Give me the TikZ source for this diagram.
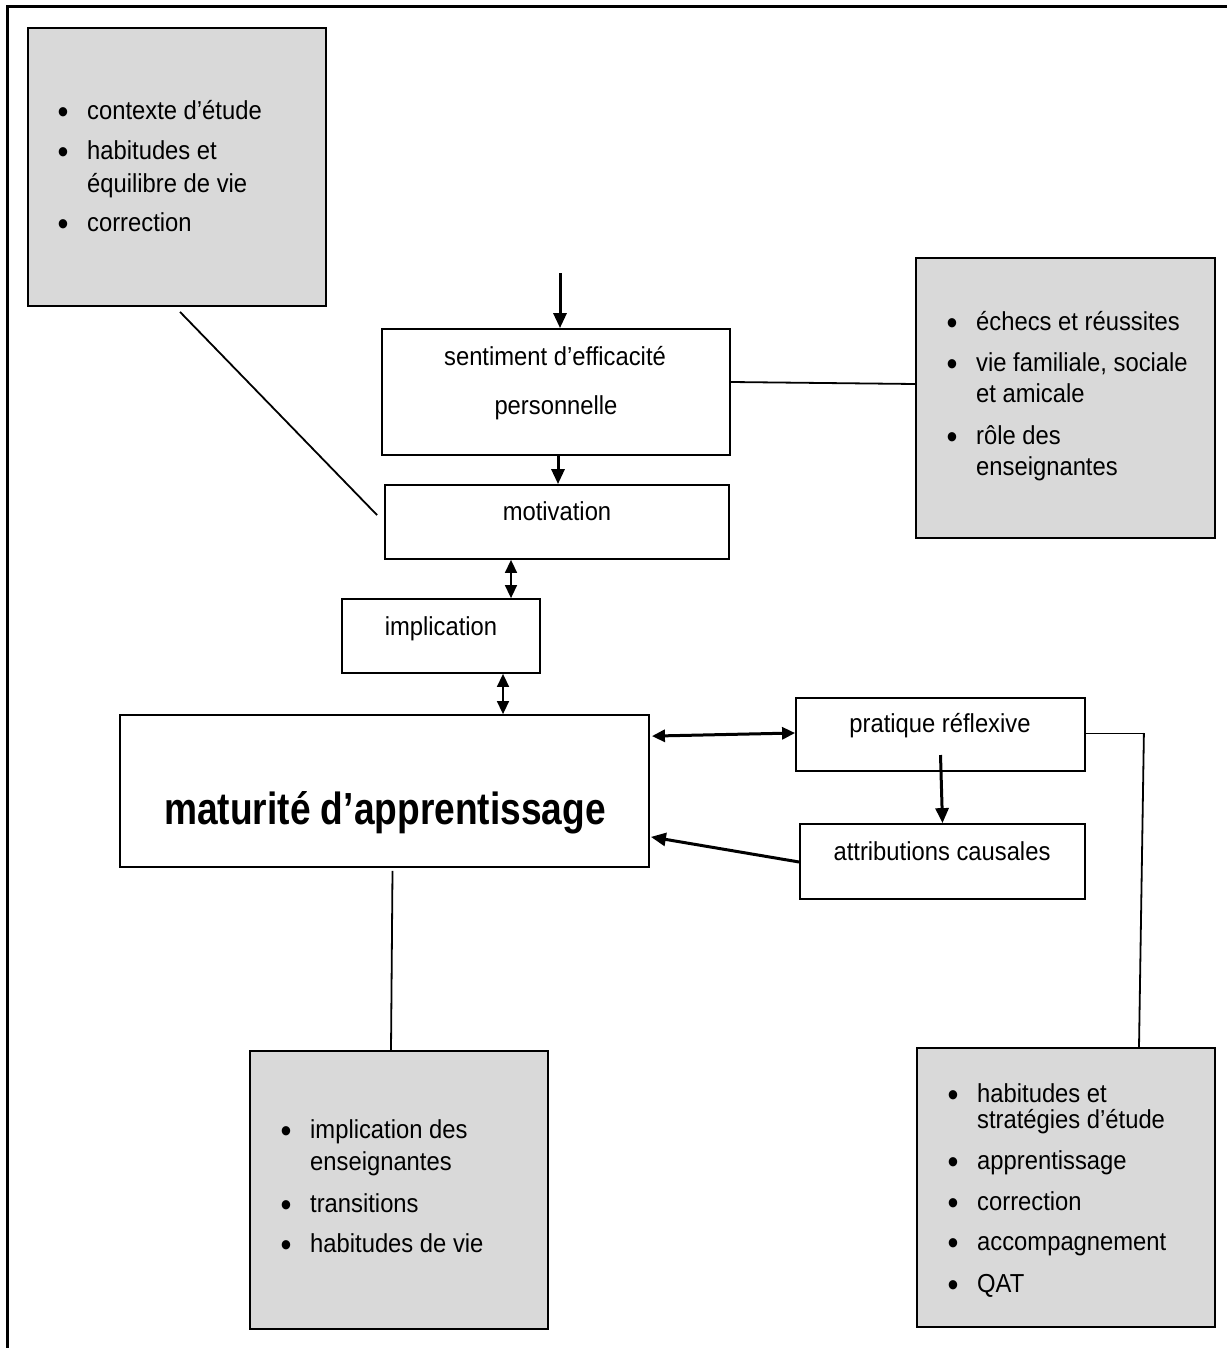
\documentclass[tikz,border=0pt]{standalone}
\usepackage{fontspec}
\setmainfont{Liberation Sans}[FakeStretch=0.915]
\newfontfamily\titlefont{Liberation Sans}[FakeStretch=0.825]
\usetikzlibrary{arrows.meta}
\definecolor{boxgray}{HTML}{D9D9D9}
\begin{document}
\begin{tikzpicture}[x=1pt,y=-1pt,
  box/.style={draw=black,line width=1.8pt,inner sep=0pt,rectangle},
  graybox/.style={box,fill=boxgray},
  txt/.style={inner sep=0pt,yshift=-5pt,font=\fontsize{26}{30}\selectfont},
  item/.style={txt,anchor=mid west},
  bul/.style={inner sep=0pt,anchor=mid,yshift=-8.5pt,font=\fontsize{34}{34}\selectfont},
  ctr/.style={txt,anchor=mid},
  thickarrow/.style={line width=3pt,-{Triangle[length=15pt,width=13pt]}},
  dblarrow/.style={line width=1.5pt,{Triangle[length=13pt,width=12pt]}-{Triangle[length=13pt,width=12pt]}},
  conn/.style={line width=1.8pt},
  thinconn/.style={line width=1pt}]
\useasboundingbox (0,0) rectangle (1227,1348);
% outer frame
\draw[line width=3pt] (7,1348) -- (7,7) -- (1227,7);

% boxes
\node[graybox,minimum width=298pt,minimum height=278pt] (A) at (177,167) {};
\node[box,minimum width=348pt,minimum height=126pt] (sent) at (556,392) {};
\node[box,minimum width=344pt,minimum height=74pt] (motiv) at (557,522) {};
\node[box,minimum width=198pt,minimum height=74pt] (impl) at (441,636) {};
\node[box,minimum width=529pt,minimum height=152pt] (mat) at (384.5,791) {};
\node[box,minimum width=289pt,minimum height=73pt] (prat) at (940.5,734.5) {};
\node[box,minimum width=285pt,minimum height=75pt] (attr) at (942.5,861.5) {};
\node[graybox,minimum width=299pt,minimum height=280pt] (C) at (1065.5,398) {};
\node[graybox,minimum width=298pt,minimum height=278pt] (D) at (399,1190) {};
\node[graybox,minimum width=298pt,minimum height=279pt] (E) at (1066,1187.5) {};

% centred texts
\node[ctr] (sentA) at (555,358) {sentiment d’efficacité};
\node[ctr] (sentB) at (556,407) {personnelle};
\node[ctr] (motivT) at (557,513) {motivation};
\node[ctr] (implT) at (441,628) {implication};
\node[ctr] (pratT) at (940,725) {pratique réflexive};
\node[ctr] (attrT) at (942,853) {attributions causales};
\node[inner sep=0pt,anchor=mid,yshift=-14pt,font=\titlefont\bfseries\fontsize{45}{48}\selectfont] (matT) at (385,808) {maturité d’apprentissage};

% bullet lists
\newcommand\bitem[4]{\node[bul] (#1b) at (#2-24,#3) {•};\node[item] (#1) at (#2,#3) {#4};}
\newcommand\bcont[4]{\node[item] (#1) at (#2,#3) {#4};}
\bitem{a1}{87}{112}{contexte d’étude}
\bitem{a2}{87}{152}{habitudes et}
\bcont{a3}{87}{185}{équilibre de vie}
\bitem{a4}{87}{224}{correction}

\bitem{c1}{976}{323}{échecs et réussites}
\bitem{c2}{976}{364}{vie familiale, sociale}
\bcont{c3}{976}{395}{et amicale}
\bitem{c4}{976}{437}{rôle des}
\bcont{c5}{976}{468}{enseignantes}

\bitem{d1}{310}{1131}{implication des}
\bcont{d2}{310}{1163}{enseignantes}
\bitem{d3}{310}{1205}{transitions}
\bitem{d4}{310}{1245}{habitudes de vie}

\bitem{e1}{977}{1095}{habitudes et}
\bcont{e2}{977}{1121}{stratégies d’étude}
\bitem{e3}{977}{1162}{apprentissage}
\bitem{e4}{977}{1203}{correction}
\bitem{e5}{977}{1243}{accompagnement}
\bitem{e6}{977}{1285}{QAT}

% connectors
\coordinate (topin) at (560,273);
\draw[thickarrow] (topin) -- ([xshift=4pt]sent.north);
\draw[thickarrow] ([xshift=2pt]sent.south) -- ([xshift=1pt]motiv.north);
\draw[dblarrow] ([xshift=-46pt]motiv.south) -- ([xshift=70pt]impl.north);
\draw[dblarrow] ([xshift=62pt]impl.south) -- ([xshift=118.5pt]mat.north);
\draw[dblarrow,line width=3pt] ([xshift=2pt,yshift=-22pt]mat.north east) -- ([yshift=1.5pt]prat.west);
\draw[thickarrow] ([yshift=-20.5pt]prat.center) -- (attr.north);
\draw[thickarrow] ([yshift=-0.5pt]attr.west) -- ([xshift=1pt,yshift=31pt]mat.south east);
\draw[conn] ([yshift=10pt]sent.east) -- ([yshift=14pt]C.west);
\draw[conn] ([xshift=3pt,yshift=-5pt]A.south) -- ([xshift=-7pt,yshift=-31pt]motiv.north west);
\draw[conn] ([xshift=8pt,yshift=-3pt]mat.south) -- ([xshift=-8pt]D.north);
\draw[thinconn] ([yshift=1.5pt]prat.east) -- ++(58,0) coordinate (pr);
\draw[conn] (pr) -- ([xshift=73pt]E.north);
\end{tikzpicture}
\end{document}
